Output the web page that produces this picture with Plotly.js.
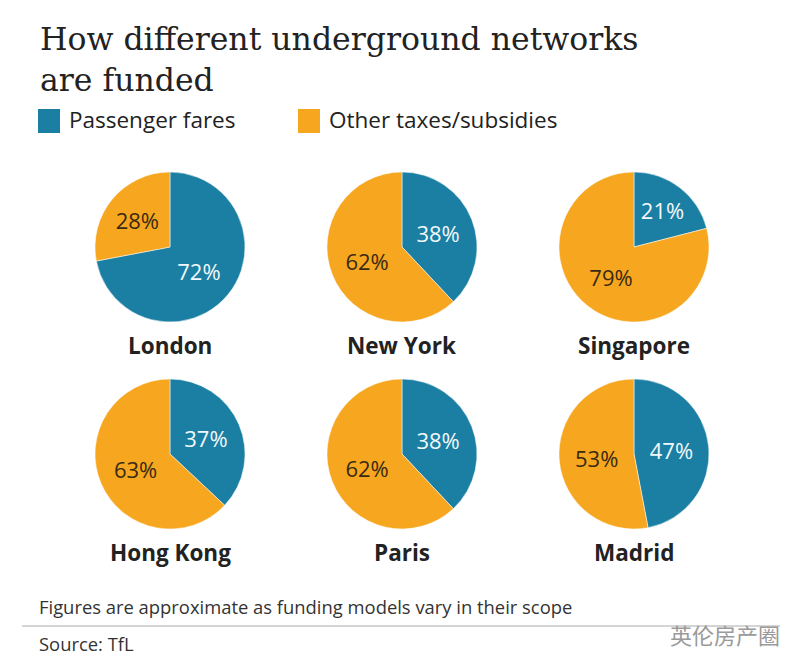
<!DOCTYPE html>
<html>
<head>
<meta charset="utf-8">
<script src="https://cdn.plot.ly/plotly-3.0.1.min.js"></script>
<style>html,body{margin:0;padding:0;background:#fff;}#chart{width:800px;height:670px;}</style>
</head>
<body>
<div id="chart"></div>
<script>
// Data
const cities = ["London", "New York", "Singapore", "Hong Kong", "Paris", "Madrid"];
const passengerFares = [72, 38, 21, 37, 38, 47];
const otherTaxes = [28, 62, 79, 63, 62, 53];
const seriesNames = ["Passenger fares", "Other taxes/subsidies"];

const titleText = "How different underground networks<br>are funded";
const noteText = "Figures are approximate as funding models vary in their scope";
const sourceText = "Source: TfL";
const watermarkText = "英伦房产圈";

// Styles
const W = 800, H = 670;
const BLUE = "#1a7fa3";
const ORANGE = "#f6a71f";
const DARK = "#222222";
const SANS = "'Open Sans', Lato, Roboto, sans-serif";
const SERIF = "'DejaVu Serif', serif";

const centersX = [170, 402, 634];
const centersY = [247, 454];
const R = 75;

const traces = cities.map((c, i) => {
  const cx = centersX[i % 3], cy = centersY[Math.floor(i / 3)];
  return {
    type: "pie",
    name: c,
    labels: seriesNames,
    values: [passengerFares[i], otherTaxes[i]],
    sort: false,
    direction: "clockwise",
    rotation: 0,
    marker: {colors: [BLUE, ORANGE], line: {color: "#ffffff", width: 0.5}},
    texttemplate: "%{value}%",
    textposition: "inside",
    insidetextorientation: "horizontal",
    textfont: {family: SANS, size: 22, color: ["#f2f8fb", "#3a2a12"]},
    hoverinfo: "skip",
    showlegend: false,
    domain: {x: [(cx - R) / W, (cx + R) / W], y: [1 - (cy + R) / H, 1 - (cy - R) / H]}
  };
});

const annotations = [];
cities.forEach((c, i) => {
  const cx = centersX[i % 3], cy = centersY[Math.floor(i / 3)];
  annotations.push({
    text: "<b>" + c + "</b>", xref: "paper", yref: "paper",
    x: cx / W, y: 1 - (cy + 98) / H, xanchor: "center", yanchor: "middle",
    showarrow: false, font: {family: SANS, size: 22.5, color: DARK}
  });
});

// Legend
const legendX = [38, 298];
const legendColors = [BLUE, ORANGE];
const shapes = [];
seriesNames.forEach((s, i) => {
  shapes.push({type: "rect", xref: "paper", yref: "paper",
    x0: legendX[i] / W, x1: (legendX[i] + 22) / W,
    y0: 1 - 133 / H, y1: 1 - 109 / H,
    fillcolor: legendColors[i], line: {width: 0}});
  annotations.push({text: s, xref: "paper", yref: "paper",
    x: (legendX[i] + 29) / W, y: 1 - 120 / H, xanchor: "left", yanchor: "middle",
    showarrow: false, font: {family: SANS, size: 22.5, color: DARK}});
});

annotations.push({text: noteText, xref: "paper", yref: "paper",
  x: 37 / W, y: 1 - 606 / H, xanchor: "left", yanchor: "middle",
  showarrow: false, font: {family: SANS, size: 18.4, color: "#333"}});
annotations.push({text: sourceText, xref: "paper", yref: "paper",
  x: 37 / W, y: 1 - 643 / H, xanchor: "left", yanchor: "middle",
  showarrow: false, font: {family: SANS, size: 18.4, color: "#333"}});
annotations.push({text: watermarkText, xref: "paper", yref: "paper",
  x: 782 / W, y: 1 - 634 / H, xanchor: "right", yanchor: "middle",
  showarrow: false, font: {family: "'Noto Sans CJK SC', sans-serif", size: 22, color: "#9a9a9a"}});

shapes.push({type: "line", xref: "paper", yref: "paper",
  x0: 22 / W, x1: 780 / W, y0: 1 - 626 / H, y1: 1 - 626 / H,
  line: {color: "#aaaaaa", width: 1}});

const layout = {
  width: W, height: H,
  margin: {l: 0, r: 0, t: 0, b: 0},
  paper_bgcolor: "#ffffff",
  title: {text: titleText, x: 40 / W, xanchor: "left", y: 1 - 50 / H, yanchor: "top",
    font: {family: SERIF, size: 31.5, color: DARK}},
  annotations: annotations,
  shapes: shapes,
  showlegend: false
};

Plotly.newPlot("chart", traces, layout, {displayModeBar: false, staticPlot: true});
</script>
</body>
</html>
